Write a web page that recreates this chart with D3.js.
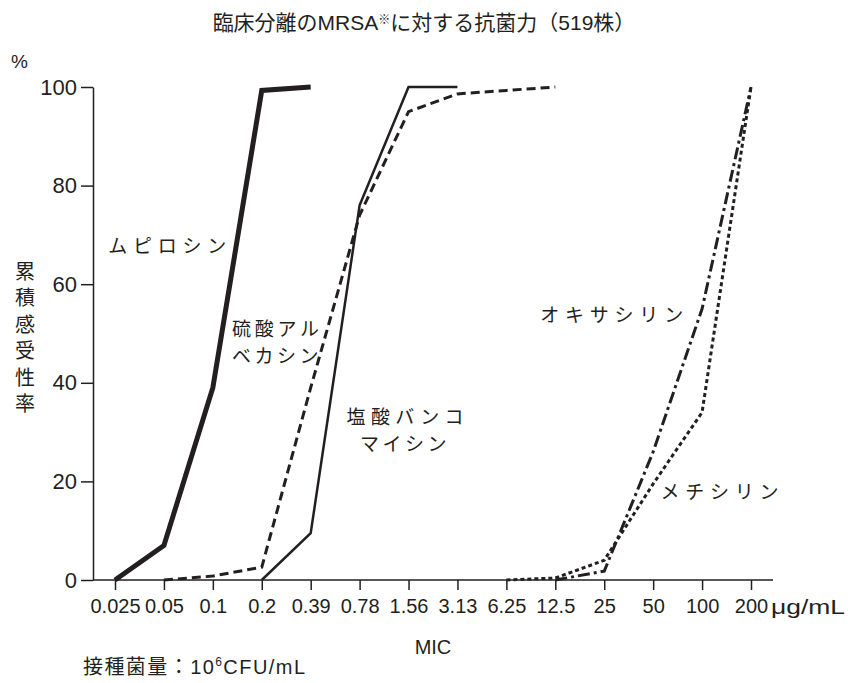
<!DOCTYPE html>
<html>
<head>
<meta charset="utf-8">
<script src="https://cdn.jsdelivr.net/npm/d3@7"></script>
<style>
  body { margin: 0; background: #fff; }
  text { fill: #231f20; font-family: "Liberation Sans", Arial, "Noto Sans CJK JP", sans-serif; }
  .jp { font-family: "Noto Sans CJK JP", sans-serif; }
</style>
</head>
<body>
<svg width="848" height="683"></svg>
<script>
const width = 848;
const height = 683;

// MIC steps (µg/mL) on the x axis
const mic = ["0.025", "0.05", "0.1", "0.2", "0.39", "0.78", "1.56", "3.13", "6.25", "12.5", "25", "50", "100", "200"];
const yTicks = [0, 20, 40, 60, 80, 100];

// cumulative susceptibility (%)
const mupirocinMic = ["0.025", "0.05", "0.1", "0.2", "0.39"];
const mupirocinPct = [0, 7, 39, 99.3, 100];
const arbekacinMic = ["0.05", "0.1", "0.2", "0.39", "0.78", "1.56", "3.13", "6.25", "12.5"];
const arbekacinPct = [0, 0.8, 2.6, 39, 74, 95, 98.6, 99.3, 100];
const vancomycinMic = ["0.2", "0.39", "0.78", "1.56", "3.13"];
const vancomycinPct = [0, 9.5, 76, 100, 100];
const oxacillinMic = ["12.5", "25", "50", "100", "200"];
const oxacillinPct = [0, 1.8, 26, 55, 100];
const methicillinMic = ["6.25", "12.5", "25", "50", "100", "200"];
const methicillinPct = [0, 0.4, 4, 19.5, 34, 100];

const series = [
  { mic: mupirocinMic, pct: mupirocinPct, width: 5, dash: null },
  { mic: arbekacinMic, pct: arbekacinPct, width: 3, dash: "9,5" },
  { mic: vancomycinMic, pct: vancomycinPct, width: 2.5, dash: null },
  { mic: oxacillinMic, pct: oxacillinPct, width: 3, dash: "12,4,3,4" },
  { mic: methicillinMic, pct: methicillinPct, width: 3, dash: "4,3" },
];

// drug names, anchored in data space (fractional MIC step, %)
const labels = [
  { lines: ["ムピロシン"], at: -0.14, pct: 68.2, anchor: "start", len: 118 },
  { lines: ["硫酸アル", "ベカシン"], at: 2.39, pct: 51.3, anchor: "start", len: 87 },
  { lines: ["塩酸バンコ", "マイシン"], at: 5.93, pct: 33.4, anchor: "middle", len: 117 },
  { lines: ["オキサシリン"], at: 8.69, pct: 54.2, anchor: "start", len: 143 },
  { lines: ["メチシリン"], at: 11.15, pct: 18.3, anchor: "start", len: 118 },
];

const svg = d3.select("svg");

const x = d3.scalePoint().domain(mic).range([115, 751]);
const y = d3.scaleLinear().domain([0, 100]).range([580, 87]);
const axisX = 93;
const axisEnd = x.range()[1] + 22;

// title
const title = svg.append("text")
  .attr("x", width / 2)
  .attr("y", 30)
  .attr("text-anchor", "middle")
  .style("font-size", "21px");
title.append("tspan").text("臨床分離のMRSA");
title.append("tspan").style("font-size", "12px").attr("dy", -6).text("※");
title.append("tspan").attr("dy", 6).text("に対する抗菌力（519株）");

// y axis
const yAxis = svg.append("g")
  .attr("transform", `translate(${axisX},0)`)
  .call(d3.axisLeft(y).tickValues(yTicks).tickSize(12).tickSizeOuter(0).tickPadding(4));
yAxis.select(".domain").attr("stroke", "#231f20").attr("stroke-width", 1.5);
yAxis.selectAll(".tick line").attr("stroke", "#231f20").attr("stroke-width", 1.5);
yAxis.selectAll(".tick text").style("font-size", "22px").style("font-family", null);

svg.append("text").attr("x", 11).attr("y", 68).style("font-size", "19px").text("%");

// vertical y title
svg.append("text")
  .attr("class", "jp")
  .attr("x", 25)
  .attr("y", 261)
  .attr("writing-mode", "vertical-rl")
  .style("font-size", "20px")
  .style("letter-spacing", "6.5px")
  .text("累積感受性率");

// x axis
const xAxis = svg.append("g")
  .attr("transform", `translate(0,${y(0)})`)
  .call(d3.axisBottom(x).tickSize(10).tickSizeOuter(0).tickPadding(9));
xAxis.select(".domain").remove();
xAxis.selectAll(".tick line").attr("stroke", "#231f20").attr("stroke-width", 1.5);
xAxis.selectAll(".tick text").style("font-size", "20px").style("font-family", null);
svg.append("line")
  .attr("x1", axisX).attr("x2", axisEnd)
  .attr("y1", y(0)).attr("y2", y(0))
  .attr("stroke", "#231f20").attr("stroke-width", 1.5);

svg.append("text")
  .attr("x", axisEnd - 2)
  .attr("y", 614)
  .attr("textLength", 74)
  .attr("lengthAdjust", "spacingAndGlyphs")
  .style("font-size", "21px")
  .text("μg/mL");

svg.append("text")
  .attr("x", (axisX + axisEnd) / 2)
  .attr("y", 654)
  .attr("text-anchor", "middle")
  .style("font-size", "20px")
  .text("MIC");

const foot = svg.append("text")
  .attr("x", 83)
  .attr("y", 674)
  .attr("textLength", 222)
  .attr("lengthAdjust", "spacing")
  .style("font-size", "20px");
foot.append("tspan").text("接種菌量：10");
foot.append("tspan").attr("dy", -8).style("font-size", "12px").text("6");
foot.append("tspan").attr("dy", 8).text("CFU/mL");

// lines
const line = d3.line()
  .x(d => x(d[0]))
  .y(d => y(d[1]));

svg.append("g").selectAll("path")
  .data(series)
  .join("path")
  .attr("d", s => line(d3.zip(s.mic, s.pct)))
  .attr("fill", "none")
  .attr("stroke", "#231f20")
  .attr("stroke-width", s => s.width)
  .attr("stroke-dasharray", s => s.dash)
  .attr("stroke-linejoin", "miter");

// labels (two-line names share one text element)
const pos = v => x(mic[0]) + v * x.step();
labels.forEach(l => {
  const t = svg.append("text")
    .attr("class", "jp")
    .attr("x", pos(l.at))
    .attr("y", y(l.pct))
    .attr("text-anchor", l.anchor)
    .attr("dominant-baseline", "central")
    .style("font-size", "19px");
  l.lines.forEach((s, i) => {
    t.append("tspan")
      .attr("x", pos(l.at))
      .attr("dy", i === 0 ? 0 : 27)
      .attr("textLength", i === 0 ? l.len : null)
      .attr("lengthAdjust", "spacing")
      .style("letter-spacing", i === 0 ? null : "3.5px")
      .text(s);
  });
});
</script>
</body>
</html>
